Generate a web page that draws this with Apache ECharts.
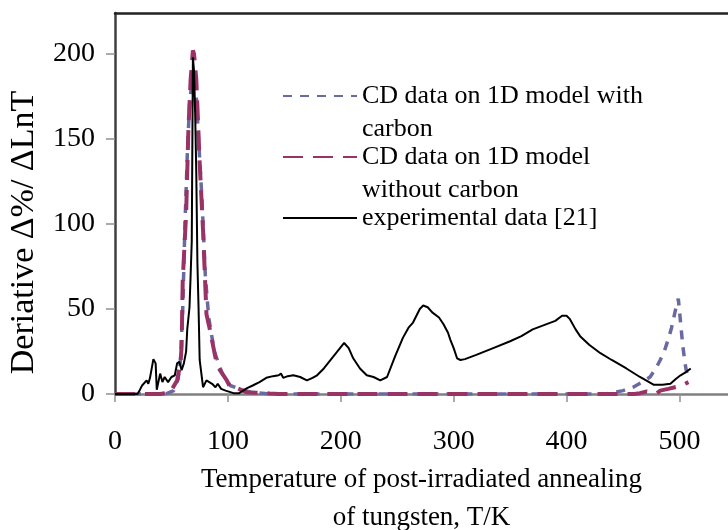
<!DOCTYPE html>
<html>
<head>
<meta charset="UTF-8">
<title>Deriative curves</title>
<script src="https://cdn.jsdelivr.net/npm/echarts@6/dist/echarts.min.js"></script>
<style>
	html, body{
		margin:0;
		padding:0;
		background:#fff;
	}
	#chart{
		width:728px;
		height:530px;
	}
</style>
</head>
<body>
<div id="chart"></div>
<script>
// x ticks / y ticks
var xTicks = [0, 100, 200, 300, 400, 500];
var yTicks = [0, 50, 100, 150, 200];

// CD data on 1D model with carbon (T, value)
var withCarbonT = [0, 45, 52, 56, 58, 60, 62, 64, 66, 68, 70, 72, 74, 77, 80, 83, 88, 95, 102, 110, 120, 135, 145,
	435, 439, 450, 459, 467, 474, 479, 483, 487, 490, 493, 495, 497, 499, 501, 503, 505, 506, 508];
var withCarbonV = [0, 0, 2, 9, 20, 50, 100, 140, 170, 183, 185, 175, 150, 115, 70, 45, 25, 12, 5, 3, 1, 0.2, 0,
	0, 0.5, 2, 4, 7, 10, 15, 20, 26, 32, 39, 45, 51, 56, 42, 28, 18, 14, 8];

// CD data on 1D model without carbon
var noCarbonT = [0, 40, 49, 55, 58, 59, 60, 63, 65, 67, 69, 70, 72, 75, 78, 81, 84, 90, 93, 99, 102, 108, 117, 125, 137, 145,
	460, 465, 471, 480, 483, 490, 496, 502, 508];
var noCarbonV = [0, 0, 1, 8, 18, 28, 67, 106, 155, 185, 202, 200, 185, 136, 96, 47, 38, 18, 14, 8, 4, 3.5, 1, 0.8, 0.3, 0,
	0, 0.5, 1.5, 0.5, 2, 3, 4, 5, 7];

// experimental data [21]
var expT = [0, 20, 22, 24, 28, 29.5, 31, 34, 36, 37, 40, 42, 44, 47, 50, 53, 55, 57, 59, 61, 63, 64, 66, 67, 68, 69, 70, 71, 72, 73, 74, 75,
	78, 81, 86, 89, 91, 94, 98, 105, 110, 117, 122, 128, 134, 140, 145, 147, 149, 153, 158, 164, 170, 175, 179, 185, 191, 197, 203,
	207, 211, 217, 223, 229, 235, 241, 248, 255, 260, 264, 270, 273, 277, 281, 287, 291, 295, 297, 300, 303, 306, 310, 320, 335,
	350, 360, 370, 380, 390, 396, 400, 403, 408, 412, 420, 430, 440, 453, 465, 477, 485, 492, 497, 501, 505, 510];
var expV = [0, 0, 2.4, 5, 8, 6, 9.5, 20.5, 18, 2.5, 12, 7, 10, 7, 10, 11, 18, 19, 14, 18, 25, 38, 51, 70, 90, 198, 190, 165, 130, 77, 51, 20,
	4, 8, 6, 4, 6, 3, 2, 0.5, 0.5, 3.5, 5, 7, 9.5, 10.5, 11, 12, 9.5, 10.5, 11, 10, 8, 9.5, 11, 15, 20, 25, 30,
	27, 21, 15, 11, 10, 8, 10, 22, 33, 39, 42, 50, 52, 51, 48, 45, 41, 36, 32, 27, 21, 20, 20.5, 23, 27,
	31, 34, 38, 40.5, 43, 46, 46, 44, 38, 34, 29, 24, 20, 15, 10, 5.5, 5.5, 6, 9, 11, 12.5, 15];

function pairs(t, v){
	var out = [];
	for(var i=0;i<t.length;i++){
		out.push([t[i], v[i]]);
	}
	return out;
}

var serifFont = "'Liberation Serif', 'Times New Roman', serif";
var names = ['withCarbon', 'noCarbon', 'exp'];

function oneLegend(name, text, top){
	return {
		show: true,
		data: [name],
		left: 282,
		top: top,
		padding: 0,
		orient: 'vertical',
		selectedMode: false,
		itemWidth: 74,
		itemHeight: 14,
		itemStyle: { opacity: 0 },
		formatter: function(){ return text; },
		textStyle: {
			fontFamily: serifFont,
			fontSize: 26,
			lineHeight: 33,
			color: '#000'
		}
	};
}

var chart = echarts.init(document.getElementById('chart'));
var option = {
	animation: false,
	backgroundColor: '#fff',
	grid: {
		left: 115,
		top: 13,
		right: 0,
		bottom: 136,
		outerBoundsMode: 'none'
	},
	legend: [
		oneLegend(names[0], ' \nCD data on 1D model with\ncarbon', 46.5),
		oneLegend(names[1], ' \nCD data on 1D model\nwithout carbon', 107.5),
		oneLegend(names[2], ' \nexperimental data [21]\n ', 168.5)
	],
	xAxis: [{
		type: 'value',
		min: 0,
		max: 543,
		name: 'Temperature of post-irradiated annealing\nof tungsten, T/K',
		nameLocation: 'middle',
		nameGap: 66,
		nameTextStyle: {
			fontFamily: serifFont,
			fontSize: 27,
			lineHeight: 38,
			color: '#000'
		},
		splitLine: { show: false },
		axisLine: { lineStyle: { color: '#808080', width: 2.5 } },
		axisTick: {
			show: true,
			length: 8,
			customValues: xTicks,
			lineStyle: { color: '#909090', width: 1.5 }
		},
		axisLabel: {
			customValues: xTicks,
			margin: 34,
			fontFamily: serifFont,
			fontSize: 28,
			color: '#000'
		}
	}, {
		type: 'value',
		position: 'top',
		min: 0,
		max: 543,
		axisLine: { show: true, lineStyle: { color: '#222', width: 2.5 } },
		axisTick: { show: false },
		axisLabel: { show: false },
		splitLine: { show: false }
	}],
	yAxis: {
		type: 'value',
		min: 0,
		max: 224,
		name: 'Deriative Δ%/ ΔLnT',
		nameLocation: 'middle',
		nameGap: 74,
		nameTextStyle: {
			fontFamily: serifFont,
			fontSize: 34,
			color: '#000',
			padding: [0, 58, 0, 0]
		},
		splitLine: { show: false },
		axisLine: { show: true, lineStyle: { color: '#404040', width: 2.5 } },
		axisTick: {
			show: true,
			length: 9,
			customValues: yTicks,
			lineStyle: { color: '#909090', width: 1.5 }
		},
		axisLabel: {
			customValues: yTicks,
			margin: 20,
			fontFamily: serifFont,
			fontSize: 28,
			color: '#000'
		}
	},
	series: [
		{
			name: names[0],
			type: 'line',
			symbol: 'none',
			data: pairs(withCarbonT, withCarbonV),
			lineStyle: { color: '#6a6aa3', width: 3.5, type: [9, 8] },
			itemStyle: { color: '#6a6aa3' }
		},
		{
			name: names[1],
			type: 'line',
			symbol: 'none',
			data: pairs(noCarbonT, noCarbonV),
			lineStyle: { color: '#993366', width: 4, type: [20, 10] },
			itemStyle: { color: '#993366' }
		},
		{
			name: names[2],
			type: 'line',
			symbol: 'none',
			data: pairs(expT, expV),
			lineStyle: { color: '#000', width: 2 },
			itemStyle: { color: '#000' }
		}
	]
};
chart.setOption(option);
</script>
</body>
</html>
